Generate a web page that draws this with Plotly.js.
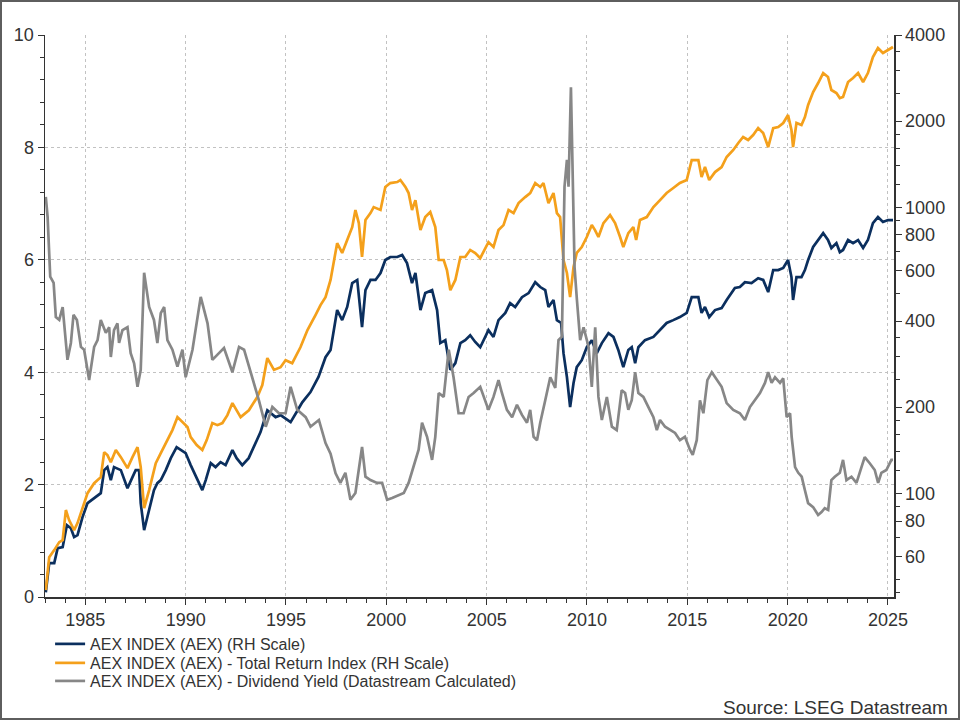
<!DOCTYPE html>
<html>
<head>
<meta charset="utf-8">
<script src="https://cdn.plot.ly/plotly-3.0.1.min.js"></script>
<style>
  html, body { margin: 0; padding: 0; background: #ffffff; }
  #frame { width: 960px; height: 720px; box-sizing: border-box; border: 2px solid #5e5e5e; background: #fff; }
  #chart { width: 956px; height: 716px; }
</style>
</head>
<body>
<div id="frame"><div id="chart"></div></div>
<script>
// AEX price index (right-hand log scale), decimal years
const aexYears = [1983.03,1983.20,1983.45,1983.62,1983.87,1984.08,1984.28,1984.44,1984.61,1984.86,
  1985.11,1985.44,1985.77,1985.94,1986.10,1986.27,1986.43,1986.77,1987.10,1987.35,
  1987.51,1987.68,1987.76,1987.93,1988.18,1988.42,1988.59,1988.76,1989.01,1989.26,
  1989.55,1989.75,1990.00,1990.25,1990.55,1990.83,1991.00,1991.25,1991.49,1991.74,
  1991.99,1992.33,1992.54,1992.82,1993.14,1993.48,1993.73,1994.07,1994.48,1994.73,
  1995.23,1995.53,1995.81,1996.22,1996.62,1996.97,1997.22,1997.55,1997.80,1998.05,
  1998.30,1998.55,1998.79,1998.96,1999.21,1999.46,1999.71,1999.95,2000.20,2000.54,
  2000.79,2001.03,2001.28,2001.45,2001.70,2001.94,2002.28,2002.53,2002.69,2002.94,
  2003.19,2003.44,2003.69,2003.93,2004.18,2004.43,2004.68,2005.09,2005.34,2005.59,
  2005.93,2006.17,2006.42,2006.76,2007.09,2007.42,2007.67,2007.92,2008.08,2008.33,
  2008.50,2008.71,2008.83,2009.00,2009.16,2009.33,2009.49,2009.74,2009.99,2010.24,
  2010.49,2010.74,2011.07,2011.32,2011.56,2011.81,2012.06,2012.23,2012.40,2012.56,
  2012.89,2013.31,2013.64,2013.97,2014.30,2014.63,2014.97,2015.22,2015.55,2015.71,
  2015.88,2016.09,2016.38,2016.71,2016.96,2017.37,2017.62,2017.87,2018.20,2018.53,
  2018.78,2019.03,2019.28,2019.53,2019.78,2020.02,2020.19,2020.27,2020.44,2020.69,
  2020.86,2021.02,2021.27,2021.52,2021.77,2022.01,2022.18,2022.43,2022.60,2022.76,
  2023.01,2023.26,2023.51,2023.76,2024.00,2024.25,2024.50,2024.75,2025.00,2025.25];
const aexValues = [45.1,57.0,57.0,64.3,64.8,77.4,75.5,70.3,71.4,82.6,
  92.4,96.2,100.1,120.5,123.5,111.2,123.5,120.5,104.2,113.9,
  120.5,120.5,92.4,74.3,87.4,102.6,108.5,111.2,120.5,132.7,
  145,141.6,138.2,125.5,113,102.6,111.2,127.5,123.5,128.5,
  125.5,141.6,132.7,125.5,132.7,149.8,163.6,195,184.6,187.6,
  177.4,192.3,208,225.8,255,299,317,437,403,448,
  543,557,381,513,557,557,589,654,670,670,
  681,638,543,589,437,501,513,437,335,343,
  270,285,335,343,357,338,324,372,352,403,
  427,462,448,485,501,547,526,513,448,474,
  403,394,309,255,200,243,276,292,324,343,
  309,335,363,352,317,276,317,324,285,324,
  343,352,372,394,403,413,427,485,485,427,
  448,413,437,444,474,522,526,547,543,565,
  557,505,603,603,613,654,570,474,570,570,
  603,654,726,768,812,768,720,749,697,709,
  768,749,768,720,768,880,924,888,902,902];

// AEX total return index (right-hand log scale)
const triYears = [1983.03,1983.20,1983.45,1983.70,1983.87,1984.03,1984.19,1984.44,1984.61,1984.86,
  1985.11,1985.44,1985.77,1985.94,1986.10,1986.27,1986.52,1986.77,1987.10,1987.35,
  1987.60,1987.76,1987.93,1988.18,1988.51,1988.76,1989.09,1989.34,1989.59,1989.84,
  1990.09,1990.25,1990.55,1990.83,1991.05,1991.33,1991.58,1991.83,1992.08,1992.33,
  1992.54,1992.74,1993.15,1993.57,1993.82,1994.07,1994.40,1994.73,1994.98,1995.31,
  1995.72,1996.07,1996.47,1996.72,1996.97,1997.22,1997.55,1997.80,1998.05,1998.30,
  1998.46,1998.63,1998.79,1998.96,1999.21,1999.37,1999.71,1999.95,2000.20,2000.54,
  2000.70,2000.95,2001.11,2001.28,2001.45,2001.70,2001.94,2002.19,2002.44,2002.61,
  2002.86,2003.02,2003.19,2003.44,2003.69,2003.93,2004.18,2004.43,2004.68,2005.09,
  2005.34,2005.59,2005.84,2006.09,2006.34,2006.59,2006.92,2007.17,2007.42,2007.67,
  2007.83,2008.08,2008.33,2008.50,2008.66,2008.83,2009.00,2009.16,2009.33,2009.49,
  2009.74,2009.99,2010.24,2010.40,2010.57,2010.82,2011.15,2011.40,2011.65,2011.81,
  2012.06,2012.31,2012.45,2012.64,2012.98,2013.31,2013.64,2013.97,2014.30,2014.63,
  2014.97,2015.22,2015.55,2015.71,2015.88,2016.09,2016.38,2016.71,2016.96,2017.29,
  2017.54,2017.78,2018.03,2018.28,2018.53,2018.78,2019.03,2019.28,2019.53,2019.78,
  2020.02,2020.19,2020.27,2020.44,2020.69,2020.86,2021.02,2021.27,2021.52,2021.77,
  2022.01,2022.18,2022.43,2022.60,2022.76,2023.01,2023.26,2023.51,2023.76,2024.00,
  2024.25,2024.50,2024.75,2025.00,2025.25];
const triValues = [45.9,59.8,63.3,67.5,68.6,87.4,80.6,74.3,78.7,89.5,
  100.1,108.5,113.9,139.3,136,128.5,141.6,133.8,122.5,133.8,
  145,123.5,88.7,102.6,127.5,138.2,153.5,166.3,184.6,177.4,
  170.4,157.2,147.4,141.6,153.5,176,173.1,176,187.6,206.7,
  195,184.6,195,217,239,297,270,276,292,285,
  324,372,420,455,485,557,749,692,768,852,
  978,880,670,902,954,1001,978,1177,1215,1225,
  1245,1177,1121,978,1059,832,924,962,852,654,
  654,603,513,557,670,670,709,692,664,755,
  726,832,866,978,954,1034,1085,1121,1215,1177,
  1215,1034,1121,954,924,654,589,485,618,692,
  726,787,866,832,787,880,939,880,787,726,
  812,852,768,902,924,1001,1059,1121,1167,1215,
  1245,1462,1462,1275,1382,1245,1327,1382,1498,1585,
  1677,1760,1718,1788,1891,1817,1623,1891,1907,1970,
  2101,1861,1623,1970,1938,2067,2277,2527,2718,2945,
  2852,2569,2507,2408,2430,2740,2830,2945,2740,2945,
  3351,3602,3460,3545,3631];

// AEX dividend yield, % (left-hand scale)
const yieldYears = [1983.03,1983.12,1983.25,1983.42,1983.53,1983.70,1983.87,1984.03,1984.11,1984.28,
  1984.41,1984.58,1984.78,1984.94,1985.19,1985.44,1985.61,1985.77,1986.02,1986.19,
  1986.27,1986.43,1986.60,1986.68,1986.85,1987.10,1987.26,1987.43,1987.60,1987.76,
  1987.93,1988.18,1988.42,1988.59,1988.76,1988.93,1989.09,1989.34,1989.59,1989.84,
  1990.00,1990.34,1990.75,1991.09,1991.33,1991.66,1991.91,1992.33,1992.66,1992.91,
  1993.32,1993.65,1993.99,1994.32,1994.65,1994.98,1995.23,1995.56,1995.98,1996.22,
  1996.64,1996.97,1997.22,1997.47,1997.71,1997.96,1998.21,1998.46,1998.79,1998.96,
  1999.21,1999.54,1999.79,2000.04,2000.29,2000.54,2000.87,2001.11,2001.36,2001.61,
  2001.78,2002.03,2002.28,2002.44,2002.61,2002.86,2003.11,2003.35,2003.60,2003.85,
  2004.10,2004.35,2004.68,2005.09,2005.34,2005.59,2005.76,2006.01,2006.27,2006.51,
  2006.76,2007.01,2007.17,2007.34,2007.51,2007.67,2007.92,2008.17,2008.42,2008.58,
  2008.75,2008.88,2009.00,2009.08,2009.20,2009.28,2009.38,2009.50,2009.66,2009.83,
  2010.08,2010.24,2010.41,2010.57,2010.74,2010.99,2011.24,2011.48,2011.73,2011.90,
  2012.06,2012.23,2012.40,2012.56,2012.81,2013.06,2013.31,2013.48,2013.64,2013.89,
  2014.14,2014.39,2014.63,2014.88,2015.13,2015.27,2015.47,2015.63,2015.80,2016.00,
  2016.22,2016.47,2016.71,2016.96,2017.29,2017.62,2017.87,2018.12,2018.37,2018.62,
  2018.87,2019.03,2019.20,2019.37,2019.62,2019.78,2019.95,2020.12,2020.20,2020.37,
  2020.53,2020.70,2020.86,2021.02,2021.27,2021.52,2021.69,2021.85,2022.02,2022.18,
  2022.35,2022.60,2022.76,2022.93,2023.18,2023.43,2023.68,2023.84,2024.09,2024.34,
  2024.51,2024.67,2024.92,2025.17,2025.25];
const yieldValues = [7.12,6.76,5.7,5.59,4.98,4.93,5.16,4.45,4.22,4.52,
  5.02,4.93,4.45,4.4,3.86,4.45,4.57,4.93,4.7,4.8,
  4.27,4.75,4.87,4.52,4.75,4.8,4.34,4.16,3.74,4.04,
  5.77,5.16,4.93,4.52,5.05,5.16,4.57,4.4,4.1,4.4,
  3.91,4.4,5.34,4.87,4.22,4.34,4.43,4.0,4.45,4.4,
  3.91,3.5,3.03,3.38,3.27,3.27,3.74,3.33,3.2,3.03,
  3.15,2.74,2.55,2.2,2.03,2.21,1.73,1.85,2.67,2.14,
  2.08,2.03,2.03,1.73,1.76,1.8,1.85,2.03,2.31,2.62,
  3.1,2.85,2.44,2.85,3.63,3.56,4.4,3.91,3.27,3.27,
  3.56,3.63,3.74,3.33,3.56,3.86,3.63,3.33,3.2,3.42,
  3.24,3.1,3.33,2.85,2.79,3.1,3.5,3.91,3.72,4.57,
  4.63,7.3,7.78,7.3,9.07,7.78,5.87,5.28,4.57,4.8,
  4.45,3.74,4.8,3.56,3.15,3.56,3.03,2.97,3.68,3.63,
  3.33,3.5,4.0,3.63,3.56,3.38,3.2,2.97,3.15,3.03,
  2.97,2.92,2.79,2.85,2.62,2.53,2.79,3.5,3.27,3.86,
  4.0,3.86,3.74,3.45,3.33,3.27,3.15,3.38,3.5,3.63,
  3.81,4.0,3.81,3.91,3.81,3.89,3.2,3.27,2.85,2.31,
  2.21,2.14,1.9,1.67,1.6,1.46,1.51,1.58,1.55,2.08,
  2.14,2.21,2.44,2.08,2.14,2.03,2.31,2.49,2.38,2.26,
  2.03,2.21,2.26,2.44,2.44];

const seriesNames = [
  'AEX INDEX (AEX) (RH Scale)',
  'AEX INDEX (AEX) - Total Return Index (RH Scale)',
  'AEX INDEX (AEX) - Dividend Yield (Datastream Calculated)'
];
const leftTicks = [0, 2, 4, 6, 8, 10];
const rightTicks = [60, 80, 100, 200, 400, 600, 800, 1000, 2000, 4000];
const rightMinorTicks = [45, 50, 70, 90, 120, 140, 160, 180, 250, 300, 350, 500, 700, 900,
  1200, 1400, 1600, 1800, 2500, 3000, 3500];
const sourceNote = 'Source: LSEG Datastream';

const NAVY = '#0b2f5e';
const ORANGE = '#f4a01b';
const GREY = '#878787';
const INK = '#333333';
const GRID = '#c2c2c2';
const TICK_SIZE = 18;

const traces = [
  { x: aexYears, y: aexValues, name: seriesNames[0], type: 'scatter', mode: 'lines',
    yaxis: 'y', legend: 'legend', line: { color: NAVY, width: 2.7 } },
  { x: triYears, y: triValues, name: seriesNames[1], type: 'scatter', mode: 'lines',
    yaxis: 'y', legend: 'legend2', line: { color: ORANGE, width: 2.7 } },
  { x: yieldYears, y: yieldValues, name: seriesNames[2], type: 'scatter', mode: 'lines',
    yaxis: 'y2', legend: 'legend3', line: { color: GREY, width: 2.7 } }
];

// one single-entry legend per series, stacked beneath the plot
function legendRow(yPos) {
  return {
    x: 0.006, y: yPos, xanchor: 'left', yanchor: 'middle',
    bgcolor: 'rgba(0,0,0,0)', borderwidth: 0,
    font: { size: 16, color: INK }
  };
}

const layout = {
  width: 956, height: 716,
  margin: { l: 43, r: 64, t: 33, b: 121 },
  paper_bgcolor: '#ffffff', plot_bgcolor: '#ffffff',
  font: { family: '"Liberation Sans", Arial, sans-serif', color: INK, size: 16 },
  showlegend: true,
  legend: legendRow(-0.0836),
  legend2: legendRow(-0.1174),
  legend3: legendRow(-0.1495),
  xaxis: {
    range: [1982.99, 2025.30], tickmode: 'linear', tick0: 1985, dtick: 5,
    ticks: 'outside', ticklen: 6, tickwidth: 1, tickcolor: INK,
    showline: true, linecolor: INK, linewidth: 1.5, mirror: false,
    showgrid: true, gridcolor: GRID, griddash: 'dot', gridwidth: 1, zeroline: false,
    tickfont: { size: TICK_SIZE, color: INK },
    minor: { ticks: 'outside', tick0: 1985, dtick: 1, ticklen: 4, tickcolor: INK, showgrid: false }
  },
  yaxis: {
    type: 'log', side: 'right',
    range: [Math.log10(43.4), Math.log10(4000)],
    tickmode: 'array', tickvals: rightTicks, ticktext: rightTicks.map(String),
    ticks: 'outside', ticklen: 6, tickwidth: 1, tickcolor: INK,
    showline: true, linecolor: INK, linewidth: 1.5,
    showgrid: false, zeroline: false,
    tickfont: { size: TICK_SIZE, color: INK },
    minor: { tickmode: 'array', tickvals: rightMinorTicks, ticks: 'outside', ticklen: 4, tickcolor: INK, showgrid: false }
  },
  yaxis2: {
    overlaying: 'y', side: 'left', range: [0, 10],
    tickmode: 'array', tickvals: leftTicks, ticktext: leftTicks.map(String),
    ticks: 'outside', ticklen: 6, tickwidth: 1, tickcolor: INK,
    showline: true, linecolor: INK, linewidth: 1.5,
    showgrid: true, gridcolor: GRID, griddash: 'dot', gridwidth: 1, zeroline: false,
    tickfont: { size: TICK_SIZE, color: INK },
    minor: { tick0: 0, dtick: 0.4, ticks: 'outside', ticklen: 4, tickcolor: INK, showgrid: false }
  },
  annotations: [{
    text: sourceNote, xref: 'paper', yref: 'paper', x: 1.066, y: -0.196,
    xanchor: 'right', yanchor: 'middle', showarrow: false,
    font: { size: 19, color: INK }
  }]
};

Plotly.newPlot('chart', traces, layout, { displayModeBar: false, staticPlot: true });
</script>
</body>
</html>
